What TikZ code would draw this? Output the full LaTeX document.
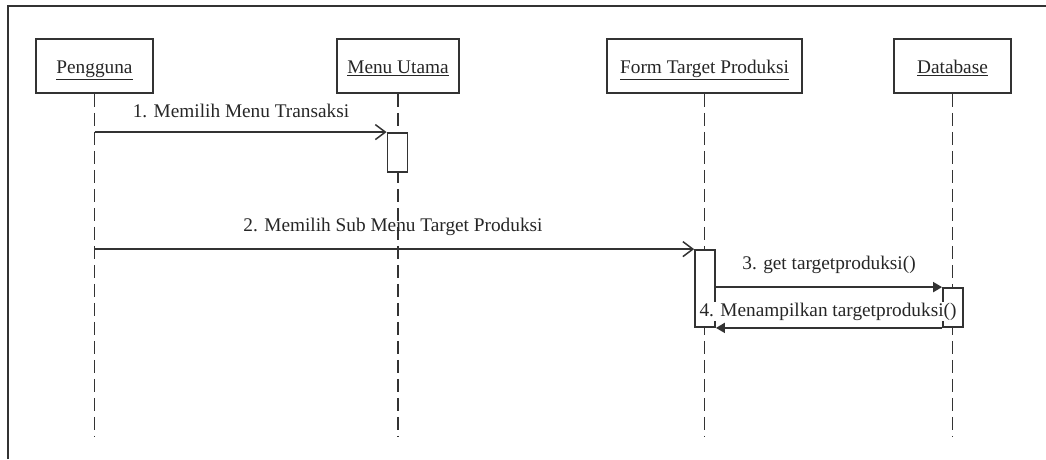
\documentclass[tikz,border=0pt]{standalone}
\usepackage{fontspec}
\setmainfont{Liberation Serif}
\usetikzlibrary{arrows.meta}
\begin{document}
\begin{tikzpicture}[x=1pt,y=-1pt,
  font=\fontsize{19.3}{22}\selectfont,
  every node/.style={text=black!85},
  ink/.style={draw=black!80, line width=1.8pt},
  head/.style={ink, rectangle, minimum height=54, inner sep=0pt,
    text height=16pt, text depth=1pt, fill=white},
  life/.style={draw=black!80, line width=1.8pt, dash pattern=on 13pt off 6pt},
  act/.style={ink, rectangle, fill=white, minimum width=20, inner sep=0pt},
  call/.style={ink, -{Straight Barb[length=10pt,width=15pt,line width=1.5pt]}},
  sync/.style={ink, -{Triangle[length=9pt,width=10pt]}},
  lbl/.style={anchor=base, inner sep=1pt}]

\useasboundingbox (0,0) rectangle (1046,459);

% frame
\draw[ink, line width=2.2pt] (8,459) -- (8,6) -- (1046,6);

% lifeline heads
\node[head, minimum width=117] (p) at (94.5,66) {\underline{Pengguna}};
\node[head, minimum width=122] (m) at (398,66) {\underline{Menu Utama}};
\node[head, minimum width=195] (f) at (704.5,66) {\underline{Form Target Produksi}};
\node[head, minimum width=117] (d) at (952.5,66) {\underline{Database}};

% lifeline ends
\coordinate (pe) at (94.5,437);
\coordinate (me) at (398,437);
\coordinate (fe) at (704.5,437);
\coordinate (de) at (952.5,437);

\draw[life] (p.south) -- (pe);
\draw[life] (m.south) -- (me);
\draw[life] (f.south) -- (fe);
\draw[life] (d.south) -- (de);

% activation bars
\node[act, minimum height=39] (a1) at (397.5,152.5) {};
\node[act, minimum height=77] (a2) at (705,288.5) {};
\node[act, minimum height=39] (a3) at (953,307.5) {};

% messages
\draw[call] (p.south |- a1.north west) -- (a1.north west);
\node[lbl] (l1) at (241,117) {1. Memilih Menu Transaksi};

\draw[call] (p.south |- a2.north west) -- (a2.north west);
\node[lbl] (l2) at (393,231) {2. Memilih Sub Menu Target Produksi};

\draw[sync] (a2.east |- a3.north west) -- (a3.north west);
\node[lbl] (l3) at (829,269) {3. get targetproduksi()};

\draw[sync] (a3.south west) -- (a2.south east);
\node[lbl, fill=white] (l4) at (828,316) {4. Menampilkan targetproduksi()};

\end{tikzpicture}
\end{document}
